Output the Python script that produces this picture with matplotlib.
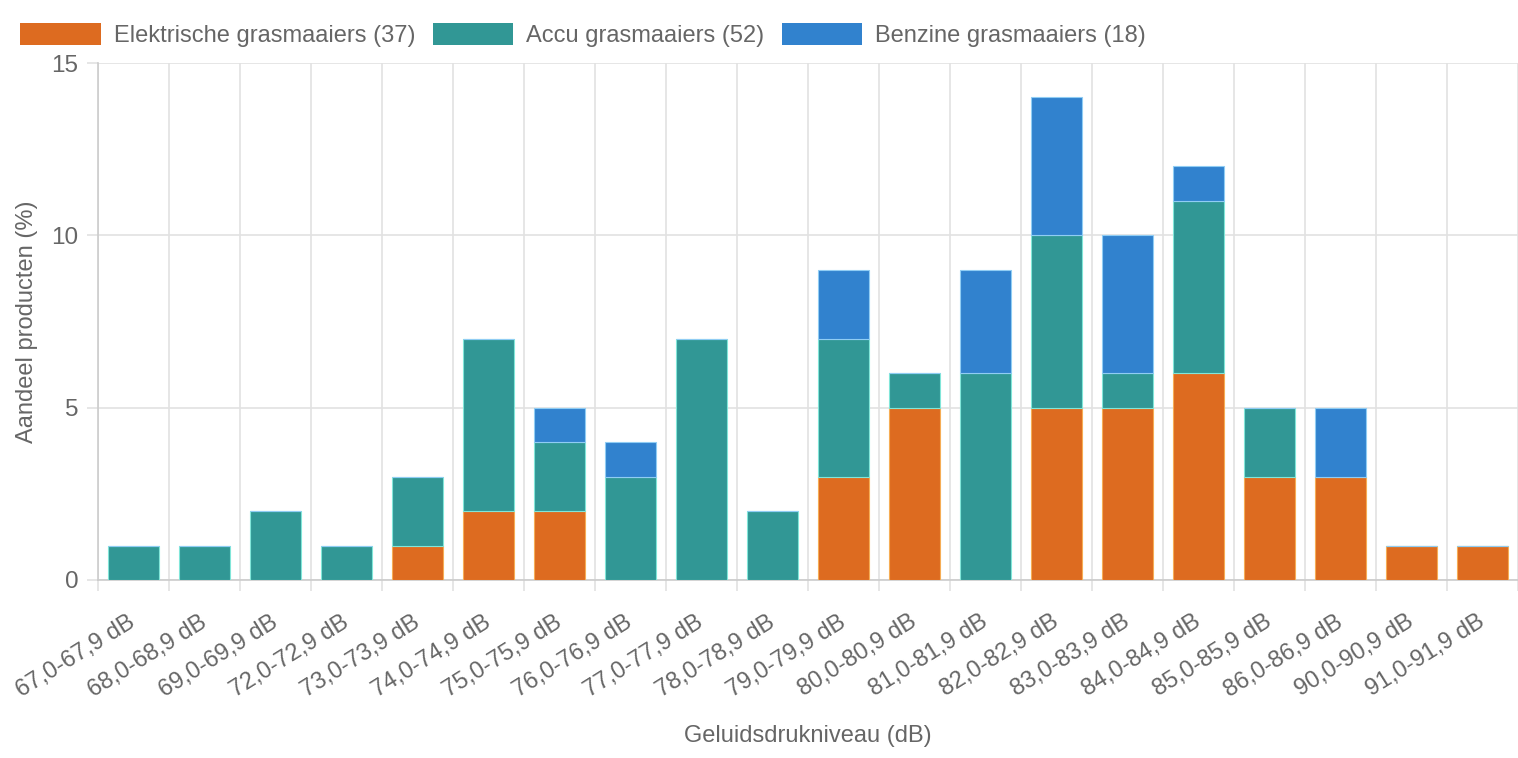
"""
Gestapeld staafdiagram: geluidsdrukniveau van grasmaaiers per type.
"""
import numpy as np
import matplotlib as mpl
mpl.use("Agg")
import matplotlib.pyplot as plt

plt.rcParams['font.family'] = ['Liberation Sans', 'DejaVu Sans']

# Data
categories = ["67,0-67,9 dB", "68,0-68,9 dB", "69,0-69,9 dB", "72,0-72,9 dB",
              "73,0-73,9 dB", "74,0-74,9 dB", "75,0-75,9 dB", "76,0-76,9 dB",
              "77,0-77,9 dB", "78,0-78,9 dB", "79,0-79,9 dB", "80,0-80,9 dB",
              "81,0-81,9 dB", "82,0-82,9 dB", "83,0-83,9 dB", "84,0-84,9 dB",
              "85,0-85,9 dB", "86,0-86,9 dB", "90,0-90,9 dB", "91,0-91,9 dB"]
elektrisch = [0, 0, 0, 0, 1, 2, 2, 0, 0, 0, 3, 5, 0, 5, 5, 6, 3, 3, 1, 1]
accu = [1, 1, 2, 1, 2, 5, 2, 3, 7, 2, 4, 1, 6, 5, 1, 5, 2, 0, 0, 0]
benzine = [0, 0, 0, 0, 0, 0, 1, 1, 0, 0, 2, 0, 3, 4, 4, 1, 0, 2, 0, 0]
series_names = ["Elektrische grasmaaiers (37)", "Accu grasmaaiers (52)",
                "Benzine grasmaaiers (18)"]
yticks = [0, 5, 10, 15]

colors = ["#DD6B20", "#319795", "#3182CE"]
edges = ["#F6AD55", "#81E6D9", "#90CDF4"]
text_col = "#666666"
grid_col = "#e2e2e2"

fig = plt.figure(figsize=(15.18, 7.58), dpi=100)
ax = fig.add_axes([98 / 1518, 1 - 580 / 758, 1420 / 1518, 517 / 758])

x = np.arange(len(categories))
bottom = np.zeros(len(categories))
for vals, name, c, e in zip([elektrisch, accu, benzine], series_names, colors, edges):
    vals = np.array(vals, dtype=float)
    ax.bar(x, vals, width=0.72, bottom=bottom, color=c, edgecolor=e,
           linewidth=0.8, label=name, zorder=3)
    bottom += vals

ax.set_xlim(-0.5, len(categories) - 0.5)
ax.set_ylim(0, 15)

# grid lines at category boundaries (chart.js style)
ax.set_xticks(np.arange(len(categories) + 1) - 0.5)
ax.set_xticks(x, minor=True)
ax.set_xticklabels([])
ax.set_xticklabels(categories, minor=True, rotation=32, ha='right', va='center',
                   rotation_mode='anchor', fontsize=17, color=text_col)
ax.tick_params(axis='x', which='major', length=8, color=grid_col, width=1.2)
ax.tick_params(axis='x', which='minor', length=0, pad=29)
ax.set_yticks(yticks)
ax.set_yticklabels([str(v) for v in yticks], fontsize=17.5, color=text_col)
ax.tick_params(axis='y', length=8, color=grid_col, width=1.2, pad=6)
ax.grid(True, which='major', color=grid_col, linewidth=1.2, zorder=0)

for s in ['top', 'right']:
    ax.spines[s].set_visible(False)
ax.spines['left'].set_color('#cccccc')
ax.spines['bottom'].set_color('#cccccc')
ax.spines['left'].set_linewidth(1.2)
ax.spines['bottom'].set_linewidth(1.2)

ax.set_xlabel("Geluidsdrukniveau (dB)", fontsize=17, color=text_col)
ax.xaxis.set_label_coords(0.5, -0.28)
ax.set_ylabel("Aandeel producten (%)", fontsize=17, color=text_col, labelpad=10)

leg = fig.legend(loc='upper left', bbox_to_anchor=(11 / 1518, 1 - 14 / 758), ncol=3,
                 frameon=False, fontsize=17, handlelength=3.4, handleheight=1.0,
                 handletextpad=0.55, columnspacing=0.75, borderaxespad=0)
for t in leg.get_texts():
    t.set_color(text_col)
for h in leg.legend_handles:
    h.set_edgecolor('none')

fig.savefig("out.png", dpi=100)
